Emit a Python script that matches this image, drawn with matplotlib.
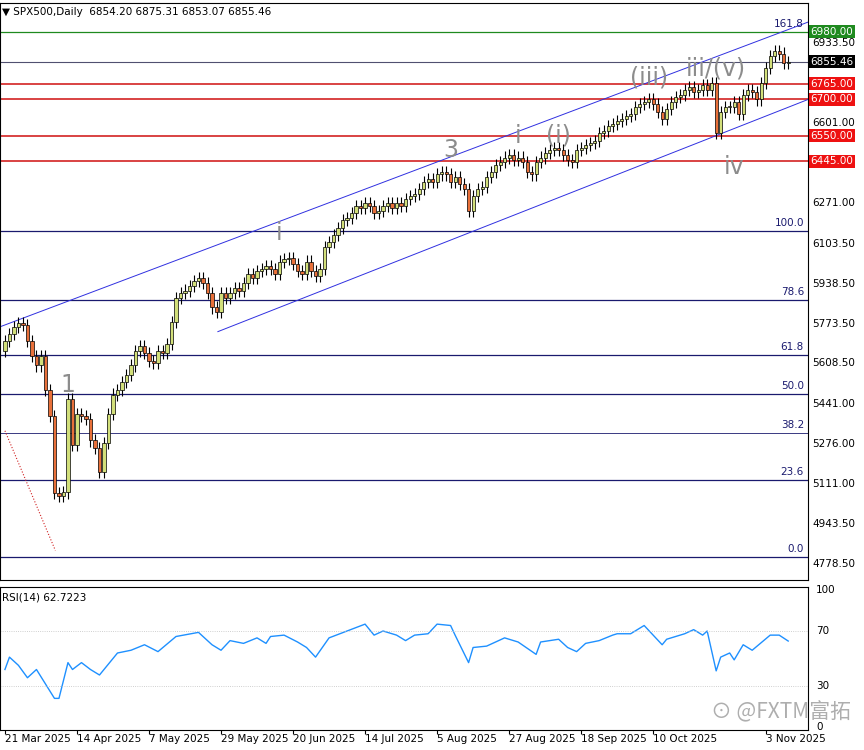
import numpy as np
import matplotlib
matplotlib.use("Agg")
import matplotlib.pyplot as plt
from matplotlib.transforms import blended_transform_factory

# daily closes, one per bar
closes = [5700, 5730, 5760, 5775, 5768, 5700, 5640, 5600, 5640, 5500,
          5390, 5074, 5060, 5075, 5460, 5270, 5400, 5390, 5380, 5290,
          5260, 5160, 5280, 5400, 5480, 5500, 5530, 5560, 5600, 5660,
          5680, 5650, 5620, 5610, 5660, 5650, 5690, 5780, 5880, 5900,
          5910, 5930, 5950, 5960, 5940, 5900, 5840, 5820, 5900, 5880,
          5900, 5920, 5910, 5940, 5980, 5960, 5990, 6000, 6010, 6000,
          5980, 6030, 6040, 6045, 6020, 5990, 5980, 6030, 5990, 5970,
          6000, 6090, 6110, 6140, 6170, 6200, 6210, 6230, 6260, 6250,
          6270, 6260, 6230, 6240, 6260, 6270, 6250, 6270, 6260, 6290,
          6300, 6310, 6330, 6360, 6370, 6360, 6390, 6400, 6390, 6360,
          6380, 6350, 6330, 6240, 6300, 6330, 6340, 6380, 6400, 6430,
          6440, 6460, 6470, 6450, 6460, 6440, 6400, 6390, 6440, 6460,
          6480, 6490, 6500, 6490, 6470, 6450, 6440, 6490, 6500, 6510,
          6520, 6530, 6560, 6570, 6590, 6600, 6610, 6620, 6630, 6640,
          6670, 6680, 6690, 6700, 6680, 6650, 6620, 6660, 6690, 6710,
          6720, 6740, 6750, 6730, 6740, 6760, 6740, 6770, 6560, 6650,
          6670, 6670, 6690, 6640, 6720, 6740, 6730, 6700, 6770, 6830,
          6880, 6900, 6890, 6850, 6855.46]
first_open = 5660
wick = 25

rsi_bar = [0, 1, 3, 5, 7, 11, 12, 14, 15, 17, 19, 21, 25, 28, 31, 34, 38, 43, 46, 48,
           50, 53, 56, 58, 59, 62, 65, 67, 69, 72, 76, 80, 82, 84, 87, 89, 91, 94, 96, 99,
           100, 103, 104, 107, 109, 111, 114, 118, 119, 123, 125, 127, 129, 132, 135, 136,
           139, 142, 146, 147, 151, 153, 155, 156, 158, 159, 161, 162, 164, 166, 170, 172, 174]
rsi_val = [42, 51, 45, 36, 42, 21, 21, 47, 42, 47, 42, 38, 54, 56, 60, 55, 66, 69, 60, 56,
           63, 61, 65, 61, 66, 67, 62, 58, 51, 65, 70, 75, 67, 70, 67, 63, 67, 68, 75, 74,
           67, 47, 58, 59, 62, 65, 62, 53, 62, 64, 58, 55, 61, 63, 67, 68,
           68, 74, 60, 64, 68, 71, 67, 70, 41, 51, 54, 49, 60, 56, 67, 67, 62.7]

fib_levels = [4808, 5126, 5321, 5482, 5643, 5871, 6156, 6980]
fib_names = ["0.0", "23.6", "38.2", "50.0", "61.8", "78.6", "100.0", "161.8"]
red_levels = [6765, 6700, 6550, 6445]
axis_ticks = [6933.50, 6601.00, 6271.00, 6103.50, 5938.50, 5773.50, 5608.50,
              5441.00, 5276.00, 5111.00, 4943.50, 4778.50]
date_bars = [0, 16, 32, 48, 64, 80, 96, 112, 128, 144, 169]
date_labels = ["21 Mar 2025", "14 Apr 2025", "7 May 2025", "29 May 2025", "20 Jun 2025",
               "14 Jul 2025", "5 Aug 2025", "27 Aug 2025", "18 Sep 2025", "10 Oct 2025",
               "3 Nov 2025"]
wave_bars = [14, 61, 99, 114, 123, 143, 158, 162]
wave_price = [5470, 6100, 6440, 6500, 6500, 6740, 6780, 6370]
wave_text = ["1", "i", "3", "i", "(i)", "(iii)", "iii/(v)", "iv"]

plt.rcParams['font.family'] = ['DejaVu Sans']
W, H = 864, 750
fig = plt.figure(figsize=(W / 100, H / 100), dpi=100)
ax = fig.add_axes([0, (H - 580) / H, 808 / W, 577 / H])
rx = fig.add_axes([0, (H - 730) / H, 808 / W, 143 / H])

n = len(closes)
idx = np.arange(n)
opens = [first_open] + closes[:-1]
for i in idx:
    o, c = opens[i], closes[i]
    up = c >= o
    ax.vlines(i, min(o, c) - wick, max(o, c) + wick, color="black", lw=0.8, zorder=3)
    ax.bar(i, max(abs(c - o), 3), bottom=min(o, c), width=0.7,
           color="#d2df7a" if up else "#e8703a", edgecolor="black", lw=0.5, zorder=4)

for lv, nm in zip(fib_levels, fib_names):
    col = "#1f8a1f" if nm == "161.8" else "#1a1a6e"
    ax.axhline(lv, color=col, lw=0.9 if nm != "38.2" else 0.6, zorder=1)
    ax.text(177.5, lv + 12, nm, color="#1a1a6e", fontsize=7.5, ha="right", va="bottom")
for lv in red_levels:
    ax.axhline(lv, color="#d01010", lw=1.1, zorder=1)
ax.axhline(closes[-1], color="#505070", lw=0.8, zorder=1)

# channel and dotted line
ax.plot([-1.1, 178.4], [5760, 7020], color="#3030e0", lw=0.7, zorder=2)
ax.plot([47.3, 178.4], [5740, 6700], color="#3030e0", lw=0.7, zorder=2)
ax.plot([0, 11.2], [5330, 4835], color="#d02020", lw=0.8, ls=":", zorder=2)

for b, p, t in zip(wave_bars, wave_price, wave_text):
    ax.text(b, p, t, color="#8c8c8c", fontsize=17, ha="center", va="bottom", zorder=5)

ax.set_xlim(-1.1, 178.4)
ax.set_ylim(4713, 7099)
ax.set_xticks([])
ax.set_yticks([])

tr = blended_transform_factory(ax.transAxes, ax.transData)
for t in axis_ticks:
    ax.text(1.005, t, f"{t:.2f}", transform=tr, fontsize=7.5, va="center", ha="left")
boxes = [(6980, "#1f8a1f"), (closes[-1], "black")] + [(lv, "#ee1111") for lv in red_levels]
for lv, bg in boxes:
    ax.text(1.003, lv, f"{lv:.2f}", transform=tr, fontsize=7.5, va="center", ha="left",
            color="white", bbox=dict(boxstyle="square,pad=0.15", fc=bg, ec="none"))
ax.text(0.003, 0.993, "\u25bc SPX500,Daily  6854.20 6875.31 6853.07 6855.46",
        transform=ax.transAxes, fontsize=7.5, va="top")

rx.plot(rsi_bar, rsi_val, color="#1e90ff", lw=1.0)
for lv in [70, 30]:
    rx.axhline(lv, color="#c0c0c0", lw=0.6, ls=":")
rx.set_xlim(-1.1, 178.4)
rx.set_ylim(-2, 102)
rx.set_yticks([])
rx.set_xticks(date_bars)
rx.set_xticklabels([])
rx.tick_params(axis="x", length=3, direction="out")
rtr = blended_transform_factory(rx.transAxes, rx.transData)
for v in [100, 70, 30, 0]:
    rx.text(1.01, v, str(v), transform=rtr, fontsize=7.5, va="center")
rx.text(0.003, 0.96, "RSI(14) 62.7223", transform=rx.transAxes, fontsize=7.5, va="top")
dtr = blended_transform_factory(rx.transData, rx.transAxes)
for b, lab in zip(date_bars, date_labels):
    rx.text(b, -0.03, lab, transform=dtr, fontsize=7.5, va="top", ha="left")

fig.text(0.985, 0.035, "\u2299 @FXTM富拓", fontsize=15, color="#9a9a9a", ha="right",
         va="bottom", family=["Noto Sans CJK SC", "DejaVu Sans"], alpha=0.8, zorder=0)

fig.savefig("out.png", dpi=100)
